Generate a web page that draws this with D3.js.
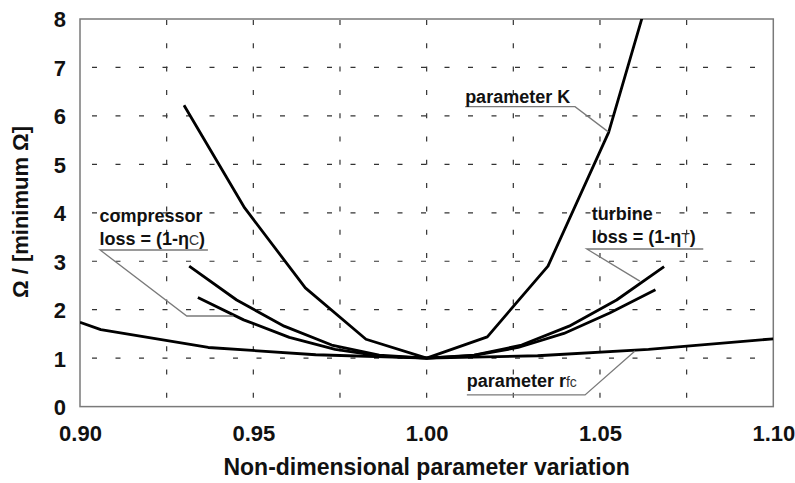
<!DOCTYPE html>
<html><head><meta charset="utf-8">
<script src="https://cdn.jsdelivr.net/npm/d3@7"></script>
<style>
html,body{margin:0;padding:0;background:#fff;}
svg{display:block;font-family:"Liberation Sans",Arial,sans-serif;}
</style></head>
<body><svg id="c" width="795" height="483"></svg>
<script>
// ---- data ----
const xTicks = [0.90, 0.95, 1.00, 1.05, 1.10];
const xGrid = [0.925, 0.95, 0.975, 1.00, 1.025, 1.05, 1.075];
const yTicks = [0,1,2,3,4,5,6,7,8];
const yGrid = [1,2,3,4,5,6,7];

const kX   = [0.93, 0.9475, 0.965, 0.9825, 1.0, 1.0175, 1.035, 1.0525, 1.07];
const kY   = [6.22, 4.10, 2.45, 1.39, 1.0, 1.44, 2.90, 5.66, 9.95];

const compX = [0.9315, 0.9452, 0.9589, 0.9726, 0.9863, 1.0, 1.0137, 1.0274, 1.0411, 1.0548, 1.0685];
const compY = [2.90, 2.20, 1.66, 1.27, 1.06, 1.0, 1.06, 1.27, 1.66, 2.20, 2.89];

const turbX = [0.934, 0.9472, 0.9604, 0.9736, 0.9868, 1.0, 1.0132, 1.0264, 1.0396, 1.0528, 1.066];
const turbY = [2.25, 1.79, 1.43, 1.18, 1.04, 1.0, 1.05, 1.22, 1.51, 1.93, 2.41];

const rfcX = [0.90, 0.906, 0.937, 0.968, 1.0, 1.032, 1.064, 1.10];
const rfcY = [1.74, 1.59, 1.22, 1.07, 1.0, 1.05, 1.18, 1.40];

const xTitle = "Non-dimensional parameter variation";
const yTitle = "Ω / [minimum Ω]";

// ---- layout ----
const svg = d3.select("#c");
const L = 80, R = 773.3, T = 19, B = 406.6;
const x = d3.scaleLinear().domain([0.90, 1.10]).range([L, R]);
const y = d3.scaleLinear().domain([0, 8]).range([B, T]);

svg.append("defs").append("clipPath").attr("id","clip")
  .append("rect").attr("x",L).attr("y",T).attr("width",R-L).attr("height",B-T);

// grid
const g = svg.append("g");
g.selectAll(".hg").data(yGrid).enter().append("line")
  .attr("x1",L).attr("x2",R).attr("y1",d=>y(d)).attr("y2",d=>y(d))
  .attr("stroke","#333").attr("stroke-width",1.2)
  .attr("stroke-dasharray","5,18.5").attr("stroke-dashoffset",-12);
g.selectAll(".vg").data(xGrid).enter().append("line")
  .attr("x1",d=>x(d)).attr("x2",d=>x(d)).attr("y1",T).attr("y2",B)
  .attr("stroke","#333").attr("stroke-width",1.2)
  .attr("stroke-dasharray","5,18.3").attr("stroke-dashoffset",-1);

// frame
svg.append("rect").attr("x",L).attr("y",T).attr("width",R-L).attr("height",B-T)
  .attr("fill","none").attr("stroke","#7a7a7a").attr("stroke-width",1.5);

// axes (labels only)
const xa = svg.append("g").attr("transform",`translate(0,${B})`)
  .call(d3.axisBottom(x).tickValues(xTicks).tickFormat(d3.format(".2f")).tickSize(0).tickPadding(0));
xa.select(".domain").remove();
xa.selectAll("text").attr("y",34).attr("dy",0)
  .attr("font-size",22).attr("font-weight","bold").attr("fill","#111")
  .attr("font-family","Liberation Sans, Arial, sans-serif");

const ya = svg.append("g").attr("transform",`translate(${L},0)`)
  .call(d3.axisLeft(y).tickValues(yTicks).tickFormat(d3.format("d")).tickSize(0).tickPadding(0));
ya.select(".domain").remove();
ya.selectAll("text").attr("x",-14).attr("dy","0.36em")
  .attr("font-size",22).attr("font-weight","bold").attr("fill","#111")
  .attr("font-family","Liberation Sans, Arial, sans-serif");

svg.append("text").attr("x",(L+R)/2).attr("y",475).attr("text-anchor","middle")
  .attr("font-size",23).attr("font-weight","bold").attr("fill","#111").text(xTitle);
svg.append("text").attr("transform","translate(28,212) rotate(-90)").attr("text-anchor","middle")
  .attr("font-size",22).attr("font-weight","bold").attr("fill","#111").text(yTitle);

// curves
const line = d3.line().x(d=>x(d[0])).y(d=>y(d[1]));
const curves = [[rfcX,rfcY],[turbX,turbY],[compX,compY],[kX,kY]];
const cg = svg.append("g").attr("clip-path","url(#clip)");
curves.forEach(([xs,ys])=>{
  cg.append("path").attr("d", line(d3.zip(xs,ys)))
    .attr("fill","none").attr("stroke","#000").attr("stroke-width",2.8)
    .attr("stroke-linejoin","round");
});

// annotations (data units)
const leaders = [
  [[1.0111,6.19],[1.0428,6.19],[1.0524,5.67]],
  [[0.9369,3.232],[0.9058,3.232],[0.9308,1.87],[0.9442,1.87]],
  [[1.0798,3.253],[1.0462,3.253],[1.0615,2.59]],
  [[1.0116,0.24],[1.0457,0.24],[1.0601,1.148]]
];
leaders.forEach(p=>{
  svg.append("path").attr("d",line(p)).attr("fill","none")
    .attr("stroke","#7a7a7a").attr("stroke-width",1.3);
});

function label(xv, yv, parts){
  const t = svg.append("text").attr("x",x(xv)).attr("y",y(yv))
    .attr("font-size",18).attr("font-weight","bold").attr("fill","#111");
  parts.forEach(p=>{
    const s = t.append("tspan").text(p.t);
    if(p.sub){ s.attr("font-size",14).attr("font-weight","normal").attr("fill","#333"); }
  });
}
label(1.0111, 6.26, [{t:"parameter K"}]);
label(0.9056, 3.80, [{t:"compressor"}]);
label(0.9056, 3.335, [{t:"loss = (1-η"},{t:"C",sub:true},{t:")"}]);
label(1.0476, 3.85, [{t:"turbine"}]);
label(1.0476, 3.37, [{t:"loss = (1-η"},{t:"T",sub:true},{t:")"}]);
label(1.0116, 0.40, [{t:"parameter r"},{t:"fc",sub:true}]);
</script>
</body></html>
